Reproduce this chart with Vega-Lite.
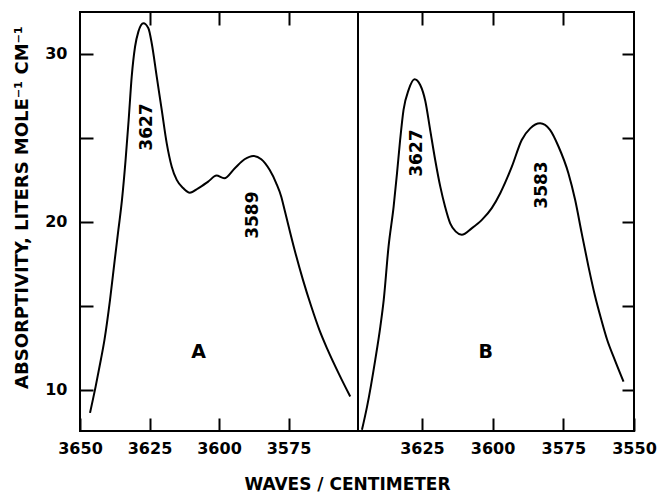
{
  "$schema": "https://vega.github.io/schema/vega-lite/v6.json",
  "background": "white",
  "padding": {"left": 11, "top": 10, "right": 0, "bottom": 0},
  "spacing": 0,
  "bounds": "flush",
  "config": {
    "view": {"stroke": "black", "strokeWidth": 2},
    "font": "DejaVu Sans",
    "axis": {
      "domain": false, "grid": false, "tickColor": "black", "tickWidth": 2,
      "labelFont": "DejaVu Sans", "labelFontWeight": "bold", "labelFontSize": 16, "labelColor": "black",
      "labelOverlap": false, "labelFlush": false, "format": "d",
      "titleFont": "DejaVu Sans", "titleFontWeight": "bold", "titleColor": "black"
    }
  },
  "datasets": {
    "A": [
      {"wavenumber": 3646.4, "absorptivity": 8.63},
      {"wavenumber": 3644.4, "absorptivity": 10.18},
      {"wavenumber": 3642.5, "absorptivity": 11.79},
      {"wavenumber": 3641.2, "absorptivity": 12.98},
      {"wavenumber": 3639.2, "absorptivity": 15.36},
      {"wavenumber": 3637.5, "absorptivity": 17.74},
      {"wavenumber": 3636.2, "absorptivity": 19.52},
      {"wavenumber": 3634.9, "absorptivity": 21.31},
      {"wavenumber": 3633.6, "absorptivity": 23.69},
      {"wavenumber": 3632.5, "absorptivity": 26.07},
      {"wavenumber": 3631.4, "absorptivity": 28.65},
      {"wavenumber": 3630.2, "absorptivity": 30.43},
      {"wavenumber": 3629.0, "absorptivity": 31.33},
      {"wavenumber": 3627.2, "absorptivity": 31.83},
      {"wavenumber": 3625.4, "absorptivity": 31.53},
      {"wavenumber": 3624.2, "absorptivity": 30.64},
      {"wavenumber": 3622.4, "absorptivity": 28.65},
      {"wavenumber": 3620.6, "absorptivity": 26.67},
      {"wavenumber": 3618.8, "absorptivity": 24.68},
      {"wavenumber": 3617.0, "absorptivity": 23.29},
      {"wavenumber": 3615.2, "absorptivity": 22.5},
      {"wavenumber": 3612.8, "absorptivity": 22.0},
      {"wavenumber": 3610.5, "absorptivity": 21.74},
      {"wavenumber": 3607.5, "absorptivity": 22.0},
      {"wavenumber": 3603.9, "absorptivity": 22.4},
      {"wavenumber": 3600.9, "absorptivity": 22.76},
      {"wavenumber": 3598.1, "absorptivity": 22.6},
      {"wavenumber": 3594.3, "absorptivity": 23.2},
      {"wavenumber": 3590.8, "absorptivity": 23.73},
      {"wavenumber": 3587.7, "absorptivity": 23.93},
      {"wavenumber": 3584.8, "absorptivity": 23.73},
      {"wavenumber": 3581.8, "absorptivity": 23.1},
      {"wavenumber": 3579.4, "absorptivity": 22.3},
      {"wavenumber": 3577.6, "absorptivity": 21.5},
      {"wavenumber": 3576.4, "absorptivity": 20.71},
      {"wavenumber": 3572.8, "absorptivity": 18.33},
      {"wavenumber": 3569.8, "absorptivity": 16.55},
      {"wavenumber": 3566.8, "absorptivity": 14.96},
      {"wavenumber": 3563.9, "absorptivity": 13.57},
      {"wavenumber": 3560.9, "absorptivity": 12.38},
      {"wavenumber": 3556.7, "absorptivity": 10.89},
      {"wavenumber": 3552.8, "absorptivity": 9.6}
    ],
    "B": [
      {"wavenumber": 3646.2, "absorptivity": 7.62},
      {"wavenumber": 3644.4, "absorptivity": 9.0},
      {"wavenumber": 3641.5, "absorptivity": 11.79},
      {"wavenumber": 3639.7, "absorptivity": 13.77},
      {"wavenumber": 3638.5, "absorptivity": 15.36},
      {"wavenumber": 3636.8, "absorptivity": 18.53},
      {"wavenumber": 3635.0, "absorptivity": 20.91},
      {"wavenumber": 3633.8, "absorptivity": 22.9},
      {"wavenumber": 3632.7, "absorptivity": 24.88},
      {"wavenumber": 3631.5, "absorptivity": 26.67},
      {"wavenumber": 3629.7, "absorptivity": 27.86},
      {"wavenumber": 3627.6, "absorptivity": 28.49},
      {"wavenumber": 3625.6, "absorptivity": 28.15},
      {"wavenumber": 3623.8, "absorptivity": 27.2},
      {"wavenumber": 3622.1, "absorptivity": 25.5},
      {"wavenumber": 3620.3, "absorptivity": 23.69},
      {"wavenumber": 3618.5, "absorptivity": 22.1},
      {"wavenumber": 3616.8, "absorptivity": 20.91},
      {"wavenumber": 3615.0, "absorptivity": 19.92},
      {"wavenumber": 3613.0, "absorptivity": 19.42},
      {"wavenumber": 3610.9, "absorptivity": 19.23},
      {"wavenumber": 3607.3, "absorptivity": 19.63},
      {"wavenumber": 3603.8, "absorptivity": 20.12},
      {"wavenumber": 3600.3, "absorptivity": 20.82},
      {"wavenumber": 3597.3, "absorptivity": 21.71},
      {"wavenumber": 3593.2, "absorptivity": 23.29},
      {"wavenumber": 3589.7, "absorptivity": 24.88},
      {"wavenumber": 3586.7, "absorptivity": 25.57},
      {"wavenumber": 3583.2, "absorptivity": 25.87},
      {"wavenumber": 3579.7, "absorptivity": 25.48},
      {"wavenumber": 3576.7, "absorptivity": 24.49},
      {"wavenumber": 3573.2, "absorptivity": 22.9},
      {"wavenumber": 3570.8, "absorptivity": 21.3},
      {"wavenumber": 3568.5, "absorptivity": 19.33},
      {"wavenumber": 3566.1, "absorptivity": 17.34},
      {"wavenumber": 3563.8, "absorptivity": 15.6},
      {"wavenumber": 3561.6, "absorptivity": 14.2},
      {"wavenumber": 3559.5, "absorptivity": 12.98},
      {"wavenumber": 3556.8, "absorptivity": 11.79},
      {"wavenumber": 3553.7, "absorptivity": 10.49}
    ],
    "peaksA": [
      {"wavenumber": 3626.0, "absorptivity": 25.65, "label": "3627"},
      {"wavenumber": 3587.8, "absorptivity": 20.4, "label": "3589"}
    ],
    "peaksB": [
      {"wavenumber": 3626.8, "absorptivity": 24.1, "label": "3627"},
      {"wavenumber": 3582.6, "absorptivity": 22.2, "label": "3583"}
    ],
    "panelA": [{"wavenumber": 3607.3, "absorptivity": 12.28, "label": "A"}],
    "panelB": [{"wavenumber": 3602.4, "absorptivity": 12.28, "label": "B"}]
  },
  "hconcat": [
    {
      "width": 278,
      "height": 419,
      "layer": [
        {
          "data": {"name": "A"},
          "mark": {"type": "line", "color": "black", "strokeWidth": 2, "interpolate": "monotone"},
          "encoding": {
            "x": {"field": "wavenumber", "type": "quantitative",
                  "scale": {"domain": [3550, 3650], "reverse": true, "nice": false, "zero": false},
                  "axis": {"orient": "bottom", "values": [3650, 3625, 3600, 3575], "tickSize": -13, "labelPadding": 22,
                           "title": "WAVES / CENTIMETER", "titleFontSize": 17, "titleX": 267, "titleY": 58, "titleBaseline": "alphabetic", "titleAlign": "center"}},
            "y": {"field": "absorptivity", "type": "quantitative",
                  "scale": {"domain": [7.55, 32.5], "nice": false, "zero": false},
                  "axis": {"orient": "left", "values": [10, 15, 20, 25, 30], "tickSize": -13, "labelPadding": 26,
                           "labelExpr": "datum.value % 10 === 0 ? datum.label : ''",
                           "title": "ABSORPTIVITY,  LITERS  MOLE⁻¹  CM⁻¹", "titleFontSize": 18, "titleAngle": 270,
                           "titleX": -53, "titleY": 195, "titleBaseline": "alphabetic", "titleAlign": "center"}}
          }
        },
        {
          "data": {"name": "peaksA"},
          "mark": {"type": "text", "angle": 270, "fontSize": 17, "fontWeight": "bold", "font": "DejaVu Sans", "color": "black", "align": "center", "baseline": "middle"},
          "encoding": {
            "x": {"field": "wavenumber", "type": "quantitative",
                  "axis": {"orient": "top", "values": [3625, 3600, 3575], "labels": false, "tickSize": -13, "title": null}},
            "y": {"field": "absorptivity", "type": "quantitative", "axis": null},
            "text": {"field": "label"}
          }
        },
        {
          "data": {"name": "panelA"},
          "mark": {"type": "text", "fontSize": 19, "fontWeight": "bold", "font": "DejaVu Sans", "color": "black", "align": "center", "baseline": "middle"},
          "encoding": {
            "x": {"field": "wavenumber", "type": "quantitative", "axis": null},
            "y": {"field": "absorptivity", "type": "quantitative", "axis": null},
            "text": {"field": "label"}
          }
        }
      ],
      "resolve": {"axis": {"x": "independent", "y": "independent"}}
    },
    {
      "width": 276,
      "height": 419,
      "layer": [
        {
          "data": {"name": "B"},
          "mark": {"type": "line", "color": "black", "strokeWidth": 2, "interpolate": "monotone"},
          "encoding": {
            "x": {"field": "wavenumber", "type": "quantitative",
                  "scale": {"domain": [3550, 3647.6], "reverse": true, "nice": false, "zero": false},
                  "axis": {"orient": "bottom", "values": [3625, 3600, 3575, 3550], "tickSize": -13, "labelPadding": 22, "title": null}},
            "y": {"field": "absorptivity", "type": "quantitative",
                  "scale": {"domain": [7.55, 32.5], "nice": false, "zero": false},
                  "axis": {"orient": "right", "values": [10, 15, 20, 25, 30], "tickSize": -12, "labels": false, "title": null}}
          }
        },
        {
          "data": {"name": "peaksB"},
          "mark": {"type": "text", "angle": 270, "fontSize": 17, "fontWeight": "bold", "font": "DejaVu Sans", "color": "black", "align": "center", "baseline": "middle"},
          "encoding": {
            "x": {"field": "wavenumber", "type": "quantitative",
                  "axis": {"orient": "top", "values": [3625, 3600, 3575], "labels": false, "tickSize": -13, "title": null}},
            "y": {"field": "absorptivity", "type": "quantitative", "axis": null},
            "text": {"field": "label"}
          }
        },
        {
          "data": {"name": "panelB"},
          "mark": {"type": "text", "fontSize": 19, "fontWeight": "bold", "font": "DejaVu Sans", "color": "black", "align": "center", "baseline": "middle"},
          "encoding": {
            "x": {"field": "wavenumber", "type": "quantitative", "axis": null},
            "y": {"field": "absorptivity", "type": "quantitative", "axis": null},
            "text": {"field": "label"}
          }
        }
      ],
      "resolve": {"axis": {"x": "independent", "y": "independent"}}
    }
  ]
}
